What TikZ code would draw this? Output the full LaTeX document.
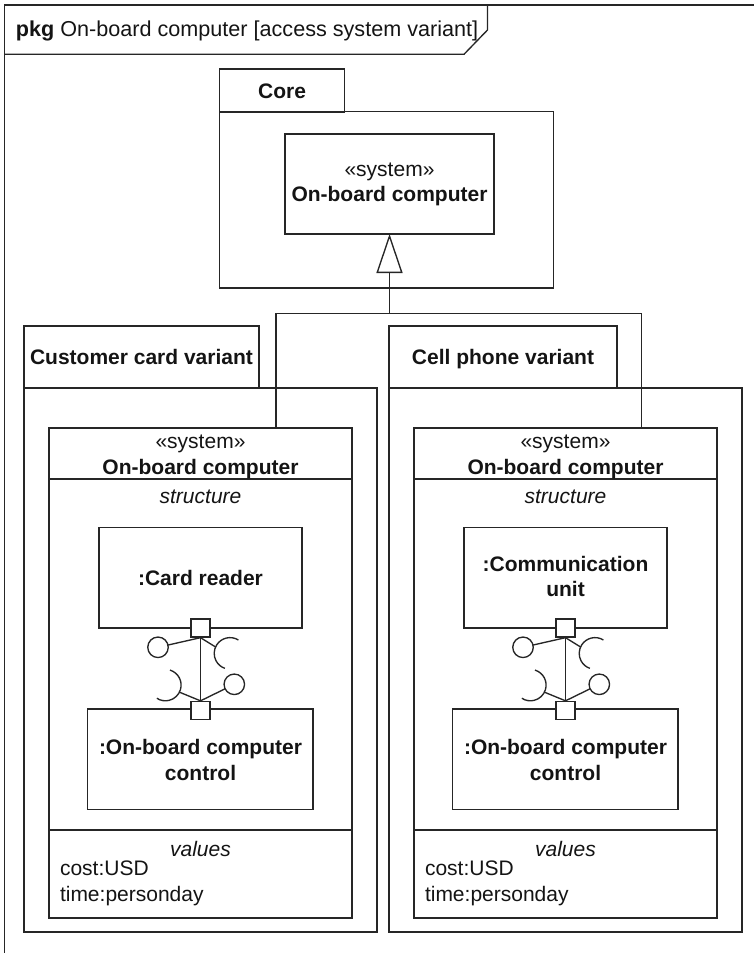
\documentclass[tikz,border=0pt]{standalone}
\usepackage{fontspec}
\setmainfont{Liberation Sans}
\usetikzlibrary{arrows.meta,fit,calc}
\colorlet{lc}{black!85}
\colorlet{tc}{black!92}
\tikzset{
 ln/.style={draw=lc, line width=1.35pt},
 thk/.style={draw=lc, line width=2.1pt},
 bx/.style={draw=lc, line width=1.35pt, inner sep=0pt, outer sep=0pt},
 tx/.style={inner sep=0pt, outer sep=0pt, text=tc, font=\fontsize{21}{25}\selectfont},
 bt/.style={tx, font=\fontsize{21}{25}\selectfont\bfseries},
 it/.style={tx, font=\fontsize{21}{25}\selectfont\itshape},
 portbox/.style={draw=lc, line width=1.35pt, fill=white, minimum width=19pt, minimum height=18pt, inner sep=0pt},
 ball/.style={circle, draw=lc, line width=1.35pt, minimum size=20.5pt, inner sep=0pt, outer sep=0pt},
}
\newcommand\ubox[5]{\node[bx, fit={(#2,#3) (#4,#5)}] (#1) {};}
\newcommand\variant[2]{%
\begin{scope}[xshift=#2]
 \ubox{#1sys}{49}{428}{352}{918}
 \draw[thk] (49,479) -- (352,479);
 \draw[thk] (49,830) -- (352,830);
 \node[tx, anchor=base] (#1ster) at (200.5,448) {«system»};
 \node[bt, anchor=base] (#1name) at (200.5,474) {On-board computer};
 \node[it, anchor=base] (#1struct) at (200.5,503) {structure};
 \ubox{#1top}{99}{527.7}{302}{628}
 \ubox{#1bot}{87.7}{709}{313}{809.5}
 \node[bt, anchor=base] (#1bla) at (200.5,754) {:On-board computer};
 \node[bt, anchor=base] (#1blb) at (200.5,780) {control};
 \node[it, anchor=base] (#1val) at (200.5,856.7) {values};
 \node[tx, anchor=base west] (#1cost) at (60,875.7) {cost:USD};
 \node[tx, anchor=base west] (#1time) at (60,901) {time:personday};
 % ports and interfaces
 \node[portbox] (#1pa) at (200.5,628) {};
 \node[portbox] (#1pb) at (200.5,710.5) {};
 \node[ball] (#1ba) at (158,647.3) {};
 \node[ball] (#1bb) at (234.3,684.3) {};
 \coordinate (#1sa) at ($(230,653.4)+(-156:15.8)$);
 \coordinate (#1sb) at ($(165.4,685.1)+(26.7:15.7)$);
 \draw[ln] ($(230,653.4)+(-58:15.8)$) arc[start angle=-58, end angle=-251, radius=15.8];
 \draw[ln] ($(165.4,685.1)+(-73:15.7)$) arc[start angle=-73, end angle=123, radius=15.7];
 \draw[ln] (#1pa.south) -- (#1pb.north);
 \draw[ln] (#1pa.south) -- (#1ba);
 \draw[ln] (#1pa.south) -- (#1sa);
 \draw[ln] (#1pb.north) -- (#1bb);
 \draw[ln] (#1pb.north) -- (#1sb);
\end{scope}}
\begin{document}
\begin{tikzpicture}[x=1pt,y=-1pt]
\useasboundingbox (0,0) rectangle (754,953);
% outer frame
\draw[ln] (4.5,953) -- (4.5,5) -- (754,5);
\draw[ln] (4.5,54.3) -- (464,54.3) -- (487.5,30) -- (487.5,5);
\node[tx, anchor=base west, font=\fontsize{21.6}{25}\selectfont] (title) at (16,36) {\textbf{pkg} On-board computer [access system variant]};
% Core package
\ubox{coretab}{219.6}{69}{344.6}{111.7}
\ubox{corebody}{219.6}{111.7}{553.6}{288}
\draw[thk] (coretab.south west) -- (coretab.south east);
\node[bt, anchor=base] (corelbl) at (282.1,98.3) {Core};
\ubox{coreclass}{285}{134}{494}{234}
\node[tx, anchor=base] (coreste) at (389.5,176) {«system»};
\node[bt, anchor=base] (corename) at (389.5,201) {On-board computer};
% variant packages
\ubox{cctab}{24}{326}{259}{388}
\ubox{ccbody}{24}{388}{377}{932}
\draw[thk] (cctab.south west) -- (cctab.south east);
\node[bt, anchor=base] (cclbl) at (141.5,364) {Customer card variant};
\ubox{cptab}{389}{326}{617}{388}
\ubox{cpbody}{389}{388}{742}{932}
\draw[thk] (cptab.south west) -- (cptab.south east);
\node[bt, anchor=base] (cplbl) at (503,364) {Cell phone variant};
% generalization
\coordinate (gj) at (389.5,313.3);
\coordinate (gl) at (276,428);
\coordinate (gr) at (641.7,428);
\draw[ln, -{Triangle[open, length=39pt, width=26pt]}] (gj) -- (coreclass.south);
\draw[ln] (gl) |- (gj) -| (gr);
% inner blocks
\variant{L}{0}
\variant{R}{365}
\node[bt, anchor=base] (Lpart) at (200.5,585.7) {:Card reader};
\node[bt, anchor=base] (Rparta) at (565.5,571.7) {:Communication};
\node[bt, anchor=base] (Rpartb) at (565.5,596.7) {unit};
\end{tikzpicture}
\end{document}
